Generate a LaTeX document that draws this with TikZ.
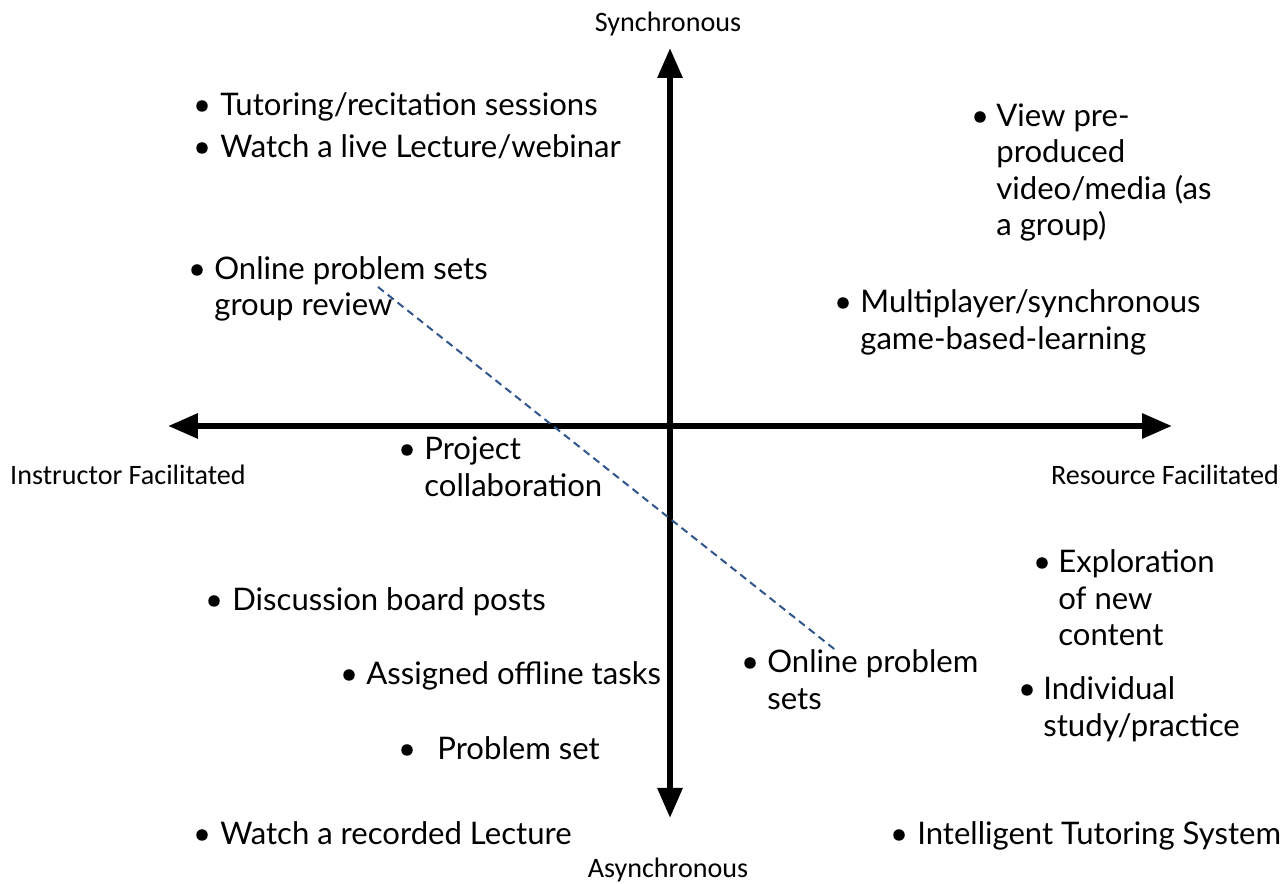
\documentclass[tikz,border=0pt]{standalone}
\usepackage{fontspec}
\setmainfont{Lato}
\newfontfamily\axisfont{Carlito}
\usetikzlibrary{arrows.meta}

\definecolor{dashblue}{RGB}{47,85,140}

% lines of one activity, first baseline on top
\newcommand\actlines[1]{\begin{tabular}[t]{@{}l@{}}#1\end{tabular}}

\tikzset{
  axis/.style={line width=0.12cm},
  axis label/.style={font=\axisfont\fontsize{16}{19}\selectfont, inner sep=0pt},
  item/.style={anchor=base west, inner sep=0pt,
    font=\fontsize{17.7}{20.5}\selectfont},
  dot/.style={circle, fill=black, inner sep=0pt, minimum size=0.23cm},
  link/.style={dashblue, line width=0.04cm, dash pattern=on 0.15cm off 0.1cm}
}

\begin{document}
\begin{tikzpicture}[x=0.02cm, y=0.02cm, >={Triangle[length=0.6cm, width=0.48cm]}]

\useasboundingbox (0,0) rectangle (1288,884);

% axes
\coordinate (sync)  at (670,836);
\coordinate (async) at (670,66);
\coordinate (instr) at (168,458);
\coordinate (resrc) at (1172,458);

\draw [axis, <->] (instr) -- (resrc);
\draw [axis, <->] (async) -- (sync);

\node [axis label] (l-sync)  at (668,860)  {Synchronous};
\node [axis label] (l-async) at (668,14)   {Asynchronous};
\node [axis label] (l-instr) at (128,409)  {Instructor Facilitated};
\node [axis label] (l-resrc) at (1165,409) {Resource Facilitated};

% activities
\foreach \n/\bx/\tx/\ty/\t in {
    tutor/202/220/768/{Tutoring/recitation sessions},
    live/202/220/726/{Watch a live Lecture/webinar},
    video/980/996/757/{View pre-\\produced\\video/media (as\\a group)},
    opsg/197/214/604/{Online problem sets\\group review},
    game/843/860/571/{Multiplayer/synchronous\\game-based-learning},
    proj/407/424/424/{Project\\collaboration},
    expl/1042/1058/311/{Exploration\\of new\\content},
    disc/214/232/273/{Discussion board posts},
    offl/349/366/199/{Assigned offline tasks},
    ops/750/767/211/{Online problem\\sets},
    indiv/1027/1043/184/{Individual\\study/practice},
    pset/407/437/124/{Problem set},
    rec/202/220/39/{Watch a recorded Lecture},
    its/899/917/39/{Intelligent Tutoring System}}
{
  \node [item] (t-\n) at (\tx,\ty) {\actlines{\t}};
  \node [dot] (b-\n) at (\bx,\ty+10) {};
}

% online problem sets, group vs. individual
\coordinate (dash-a) at (378,597);
\coordinate (dash-b) at (838,232);
\draw [link] (dash-a) -- (dash-b);

\end{tikzpicture}
\end{document}
